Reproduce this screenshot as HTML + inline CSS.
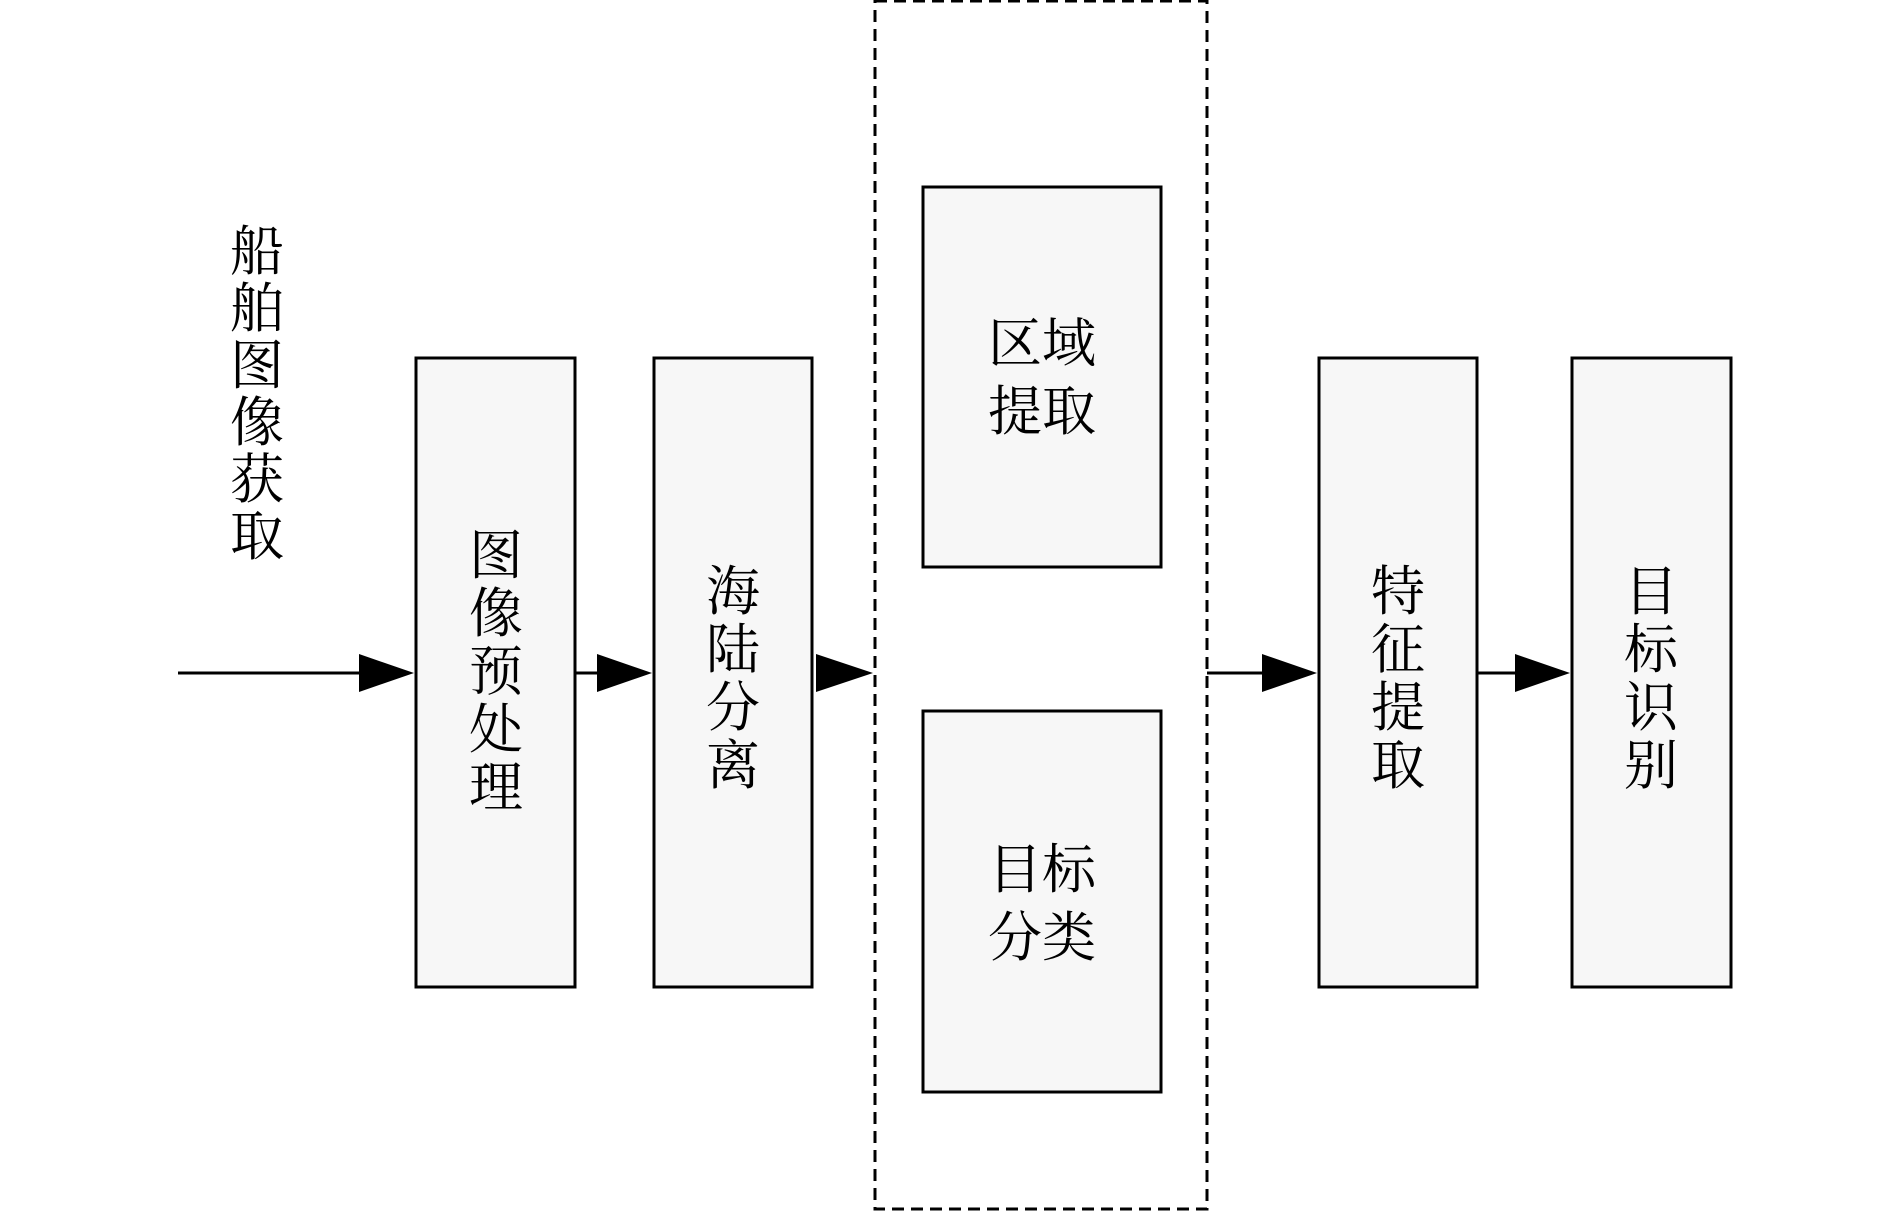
<!DOCTYPE html>
<html><head><meta charset="utf-8"><style>
body{margin:0;background:#fff}
.t{font-family:"Liberation Serif","Noto Serif CJK SC",serif;font-size:54px;fill:#000}
</style></head><body>
<svg width="1890" height="1214" xmlns="http://www.w3.org/2000/svg">
<g fill="#f7f7f7" stroke="#000" stroke-width="3">
<rect x="416" y="358" width="159" height="629"/>
<rect x="654" y="358" width="158" height="629"/>
<rect x="923" y="187" width="238" height="380"/>
<rect x="923" y="711" width="238" height="381"/>
<rect x="1319" y="358" width="158" height="629"/>
<rect x="1572" y="358" width="159" height="629"/>
</g>
<rect x="875" y="1" width="332" height="1208" fill="none" stroke="#000" stroke-width="3" stroke-dasharray="12,7"/>
<g stroke="#000" stroke-width="3">
<line x1="178" y1="673" x2="360" y2="673"/>
<line x1="575" y1="673" x2="597" y2="673"/>
<line x1="1207" y1="673" x2="1262" y2="673"/>
<line x1="1477" y1="673" x2="1515" y2="673"/>
</g>
<g fill="#000">
<polygon points="359,654 414,673 359,692"/>
<polygon points="597,654 652,673 597,692"/>
<polygon points="816,654 873,673 816,692"/>
<polygon points="1262,654 1317,673 1262,692"/>
<polygon points="1515,654 1570,673 1515,692"/>
</g>
<g class="t" text-anchor="middle">
<text x="257" y="270">船</text><text x="257" y="327">舶</text><text x="257" y="384">图</text><text x="257" y="441">像</text><text x="257" y="498">获</text><text x="257" y="555">取</text>
<text x="496" y="574">图</text><text x="496" y="632">像</text><text x="496" y="690">预</text><text x="496" y="748">处</text><text x="496" y="806">理</text>
<text x="733" y="610">海</text><text x="733" y="668">陆</text><text x="733" y="726">分</text><text x="733" y="784">离</text>
<text x="1042" y="362">区域</text><text x="1042" y="430">提取</text>
<text x="1042" y="888">目标</text><text x="1042" y="956">分类</text>
<text x="1398" y="610">特</text><text x="1398" y="668">征</text><text x="1398" y="726">提</text><text x="1398" y="784">取</text>
<text x="1651" y="610">目</text><text x="1651" y="668">标</text><text x="1651" y="726">识</text><text x="1651" y="784">别</text>
</g>
</svg>
</body></html>
